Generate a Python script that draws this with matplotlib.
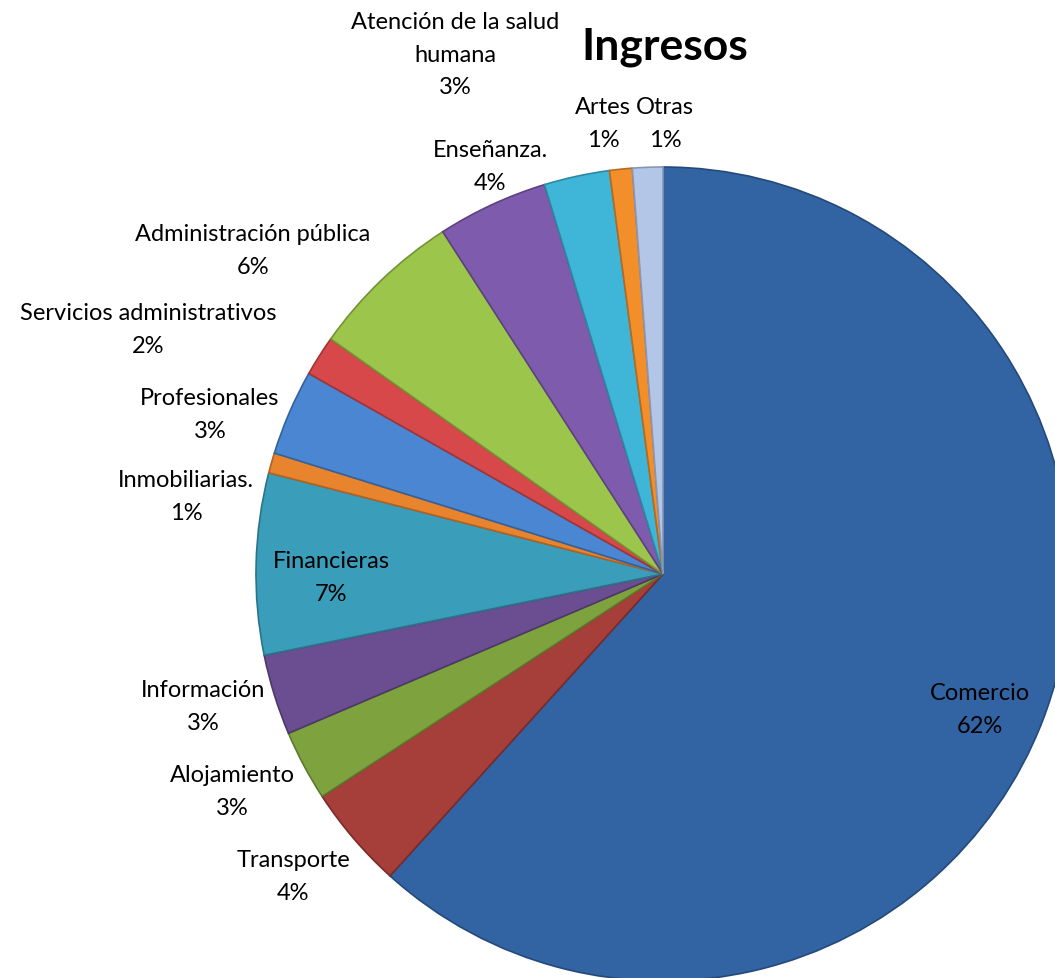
import matplotlib.pyplot as plt
import numpy as np

W, H = 1055, 979

sectors = [
    "Comercio", "Transporte", "Alojamiento", "Información", "Financieras",
    "Inmobiliarias.", "Profesionales", "Servicios administrativos",
    "Administración pública", "Enseñanza.", "Atención de la salud\nhumana",
    "Artes", "Otras",
]
shares = [61.7, 4.1, 2.8, 3.2, 7.2, 0.8, 3.4, 1.6, 6.1, 4.4, 2.6, 0.9, 1.2]
colors = [
    "#3263a3", "#a63e3a", "#7ea33e", "#6b4d91", "#3a9dba", "#e8832e",
    "#4a86d2", "#d7484a", "#9cc54b", "#7f5bad", "#3fb6d8", "#f28f2a", "#b4c6e7",
]
edge_colors = [
    "#24497a", "#7a2b28", "#5c7a2c", "#4d376b", "#2a7489", "#b56220",
    "#34629c", "#a33436", "#739336", "#5d4180", "#2d88a2", "#b8691c", "#8797b8",
]

# label anchor points (pixels from top-left), layout only
label_pos = [
    (980, 710), (293, 877), (232, 792), (203, 707), (331, 578),
    (186, 497), (210, 415), (148, 330), (253, 251), (490, 167),
    (455, 55), (603, 124), (665, 124),
]

fig = plt.figure(figsize=(W / 100, H / 100), dpi=100)
ax = fig.add_axes([0, 0, 1, 1])

wedges, _ = ax.pie(
    shares,
    colors=colors,
    startangle=90,
    counterclock=False,
    center=(663, H - 575),
    radius=407,
    wedgeprops=dict(linewidth=1.2),
)
for w, ec in zip(wedges, edge_colors):
    w.set_edgecolor(ec)

for name, val, (x, y) in zip(sectors, shares, label_pos):
    ax.text(x, H - y, f"{name}\n{val:.0f}%", ha="center", va="center",
            fontsize=17, family="Lato", linespacing=1.7, color="black")

ax.text(665, H - 47, "Ingresos", ha="center", va="center",
        fontsize=32, fontweight="bold", family="Lato")

ax.set_xlim(0, W)
ax.set_ylim(0, H)
ax.set_aspect("equal")
ax.axis("off")

fig.savefig("out.png", dpi=100)
